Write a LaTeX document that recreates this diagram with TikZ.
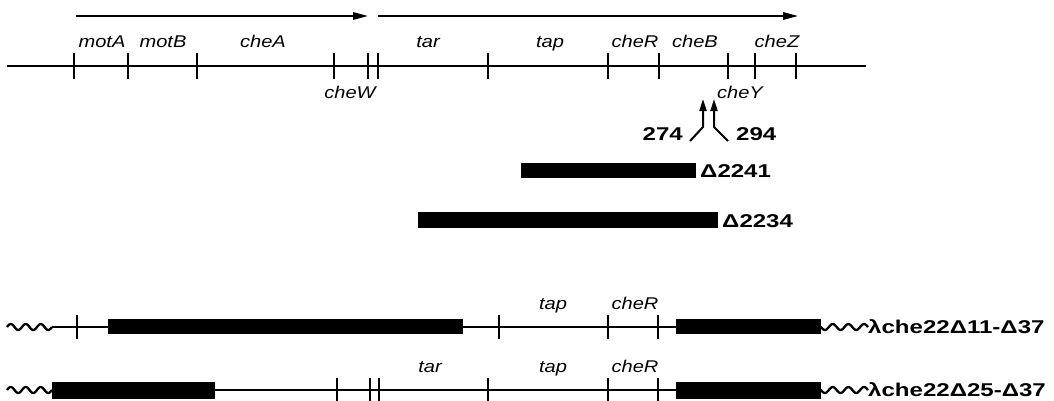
\documentclass[tikz,border=0pt]{standalone}
\usepackage{fontspec}
\usepackage{graphicx}
\setmainfont{Liberation Sans}
\usetikzlibrary{arrows.meta}
\newcommand\hsI[1]{\scalebox{1.18}[1]{#1}}
\newcommand\hsB[1]{\scalebox{1.3}[1]{#1}}
\begin{document}
\begin{tikzpicture}[x=1pt,y=-1pt,
  gene/.style={font=\fontsize{17}{17}\selectfont\itshape, inner sep=0, anchor=base},
  num/.style={font=\fontsize{18.5}{18.5}\selectfont\bfseries, inner sep=0},
  chrom/.style={line width=2.6pt},
  thin chrom/.style={line width=2.2pt},
  tickmark/.style={line width=2.4pt},
  dbar/.style={fill=black, draw=none},
  tr/.style={line width=1.7pt, -{Triangle[length=15pt,width=7.5pt]}},
  upar/.style={line width=2pt, -{Triangle[length=12pt,width=7pt]}},
  wave/.style={line width=2.3pt},
]
\useasboundingbox (0,0) rectangle (1054,400);

% transcription arrows
\coordinate (t1s) at (76,16); \coordinate (t1e) at (368,16);
\coordinate (t2s) at (378,16); \coordinate (t2e) at (798,16);
\draw[tr] (t1s) -- (t1e);
\draw[tr] (t2s) -- (t2e);

% top chromosome
\coordinate (L0) at (7,66); \coordinate (L1) at (866,66);
\draw[chrom] (L0) -- (L1);
\foreach \x in {74,128,197,334,368,378,488,608,659,728,755,796}
  \draw[tickmark] (\x,53) -- (\x,79);

\node[gene] (motA) at (102,47) {\hsI{motA}};
\node[gene] (motB) at (163,47) {\hsI{motB}};
\node[gene] (cheA) at (263,47) {\hsI{cheA}};
\node[gene] (tar)  at (428,47) {\hsI{tar}};
\node[gene] (tap)  at (550,47) {\hsI{tap}};
\node[gene] (cheR) at (635,47) {\hsI{cheR}};
\node[gene] (cheB) at (695,47) {\hsI{cheB}};
\node[gene] (cheZ) at (777,47) {\hsI{cheZ}};
\node[gene] (cheW) at (350,98) {\hsI{cheW}};
\node[gene] (cheY) at (740,98) {\hsI{cheY}};

% point mutations
\node[num, anchor=base east] (n274) at (683,140) {\hsB{274}};
\node[num, anchor=base west] (n294) at (736,140) {\hsB{294}};
\coordinate (a1) at (690,141); \coordinate (a1m) at (703,127); \coordinate (a1t) at (703,99);
\coordinate (a2) at (728,141); \coordinate (a2m) at (714,127); \coordinate (a2t) at (714,99);
\draw[upar] (a1) -- (a1m) -- (a1t);
\draw[upar] (a2) -- (a2m) -- (a2t);

% deletions
\fill[dbar] (521,163) rectangle (696,178);
\node[num, anchor=base west] (d2241) at (700,177) {\hsB{Δ2241}};
\fill[dbar] (418,212) rectangle (718,228);
\node[num, anchor=base west] (d2234) at (722,227) {\hsB{Δ2234}};

% lambda row 1
\draw[wave] plot[domain=0:45,samples=60,smooth] ({7+\x},{327-3*sin(24*\x)});
\draw[thin chrom] (52,327) -- (822,327);
\foreach \x in {77,499,608,658}
  \draw[tickmark] (\x,315) -- (\x,339);
\fill[dbar] (108,319) rectangle (463,334);
\fill[dbar] (676,319) rectangle (821,334);
\draw[wave] plot[domain=0:47,samples=60,smooth] ({821+\x},{327+3*sin(23*\x)});
\node[gene] (tapA)  at (553,309) {\hsI{tap}};
\node[gene] (cheRA) at (635,309) {\hsI{cheR}};
\node[num, anchor=base west] (lamA) at (868,333) {\hsB{λche22Δ11-Δ37}};

% lambda row 2
\draw[wave] plot[domain=0:45,samples=60,smooth] ({7+\x},{390-3*sin(24*\x)});
\draw[thin chrom] (52,390) -- (822,390);
\foreach \x in {337,370,379,488,608,658}
  \draw[tickmark] (\x,378) -- (\x,402);
\fill[dbar] (52,382) rectangle (215,399);
\fill[dbar] (676,382) rectangle (821,399);
\draw[wave] plot[domain=0:47,samples=60,smooth] ({821+\x},{390+3*sin(23*\x)});
\node[gene] (tarB)  at (430,372) {\hsI{tar}};
\node[gene] (tapB)  at (553,372) {\hsI{tap}};
\node[gene] (cheRB) at (635,372) {\hsI{cheR}};
\node[num, anchor=base west] (lamB) at (868,396) {\hsB{λche22Δ25-Δ37}};
\end{tikzpicture}
\end{document}
